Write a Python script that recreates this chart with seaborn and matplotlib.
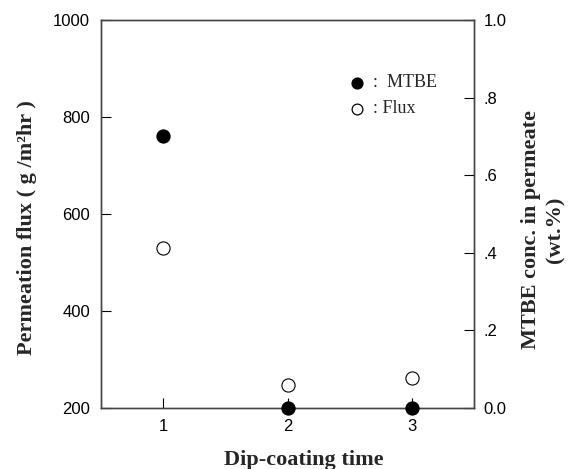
import matplotlib
matplotlib.use("Agg")
import matplotlib.pyplot as plt
import pandas as pd
import seaborn as sns

coating_time = [1, 2, 3]
flux = [530, 247, 262]
mtbe_conc = [0.70, 0.0, 0.0]

sns.set_style("ticks")
plt.rcParams["font.family"] = ["Liberation Sans", "DejaVu Sans"]

df = pd.DataFrame({"time": coating_time, "flux": flux, "mtbe": mtbe_conc})

fig = plt.figure(figsize=(5.71, 4.69), dpi=100)
ax = fig.add_axes([101 / 571, 1 - 408 / 469, 373 / 571, 388 / 469])
ax2 = ax.twinx()

serif = ["Liberation Serif", "DejaVu Serif"]

sns.scatterplot(data=df, x="time", y="flux", ax=ax, s=90, marker="o",
                facecolor="white", edgecolor="black", linewidth=0.8,
                clip_on=False, zorder=3)
sns.scatterplot(data=df, x="time", y="mtbe", ax=ax2, s=90, marker="o",
                color="black", edgecolor="black", linewidth=0.8,
                clip_on=False, zorder=3)

ax.set_xlim(0.5, 3.5)
ax.set_ylim(200, 1000)
ax2.set_ylim(0, 1.0)
ax.set_xticks(coating_time)
ax.set_yticks([200, 400, 600, 800, 1000])
ax2.set_yticks([0, 0.2, 0.4, 0.6, 0.8, 1.0])
ax2.set_yticklabels(["0.0", ".2", ".4", ".6", ".8", "1.0"])

for a in (ax, ax2):
    a.tick_params(direction="in", length=7, width=0.8, labelsize=12, colors="black")
    for sp in a.spines.values():
        sp.set_visible(True)
        sp.set_color("#444444")
        sp.set_linewidth(1.0)
ax.tick_params(axis="x", pad=8)
ax.tick_params(axis="y", pad=8)
ax2.tick_params(axis="y", pad=7)

ax.set_xlabel("Dip-coating time", fontsize=16, fontweight="bold", family=serif)
ax.xaxis.set_label_coords(0.544, -0.108)
ax.set_ylabel("Permeation flux ( g /m²hr )", fontsize=16, fontweight="bold", family=serif)
ax.yaxis.set_label_coords(-0.172, 0.466)
ax2.set_ylabel("MTBE conc. in permeate\n(wt.%)", fontsize=16, fontweight="bold",
               family=serif, rotation=90, linespacing=1.35)
ax2.yaxis.set_label_coords(1.125, 0.459)

h1 = ax2.scatter([], [], s=60, color="black")
h2 = ax.scatter([], [], s=60, facecolor="white", edgecolor="black", linewidth=0.9)
ax.legend([h1, h2], [":  MTBE", ": Flux"], loc="upper left", bbox_to_anchor=(0.662, 0.86),
          frameon=False, handlelength=1.0, handletextpad=0.4, labelspacing=0.5,
          borderpad=0, borderaxespad=0, prop={"family": serif, "size": 13})

plt.savefig("out.png", dpi=100)
plt.close()
